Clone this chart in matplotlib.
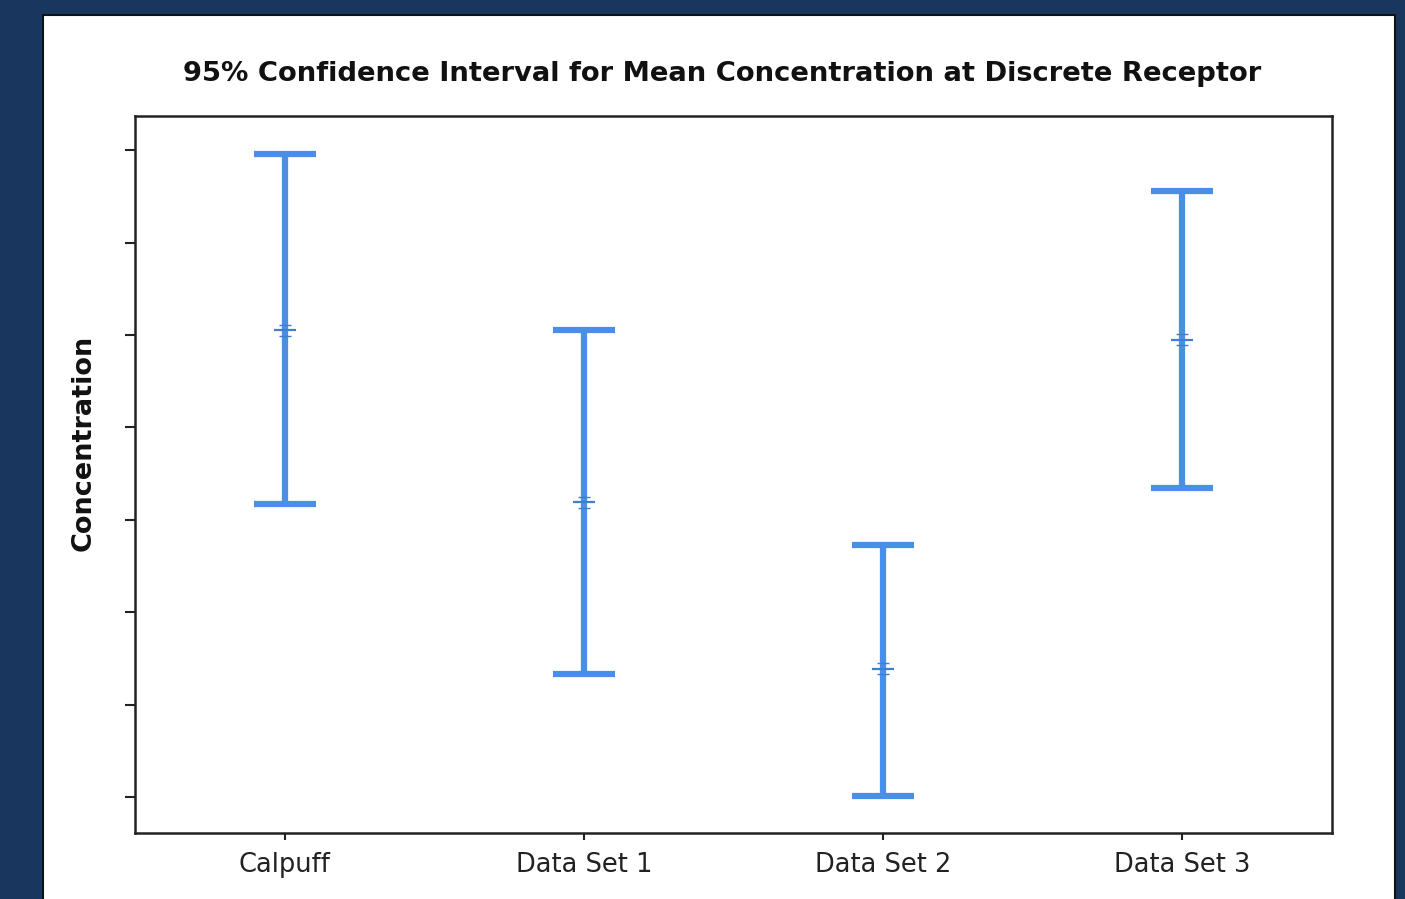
import matplotlib
matplotlib.use("Agg")
import matplotlib.pyplot as plt
from matplotlib.patches import Rectangle

categories = ["Calpuff", "Data Set 1", "Data Set 2", "Data Set 3"]
means = [5.05, 3.19, 1.39, 4.95]
upper = [6.96, 5.05, 2.73, 6.56]
lower = [3.17, 1.33, 0.01, 3.34]
yticks = [0, 1, 2, 3, 4, 5, 6, 7]

W, H = 1405, 899
fig = plt.figure(figsize=(W / 100, H / 100), dpi=100)
fig.patch.set_facecolor("#18365e")
bg = fig.add_axes([0, 0, 1, 1], zorder=-5)
bg.set_xlim(0, W)
bg.set_ylim(H, 0)
bg.axis("off")
bg.add_patch(Rectangle((43, 15), 1395 - 43, H, facecolor="white",
                       edgecolor="#111111", linewidth=1.5))

ax = fig.add_axes([135 / W, 1 - 833 / H, (1332 - 135) / W, (833 - 116) / H])
ax.set_facecolor("white")
blue = "#4a8fe6"
x = list(range(len(categories)))
yerr = [[m - l for m, l in zip(means, lower)], [u - m for u, m in zip(upper, means)]]
ax.errorbar(x, means, yerr=yerr, fmt="none", ecolor=blue, elinewidth=4.5,
            capsize=22, capthick=4.5, zorder=2)
ax.plot(x, means, linestyle="none", marker="_", markersize=16, color="#3f7fd0",
        markeredgewidth=1.6, zorder=3)
ax.plot(x, [m + 0.06 for m in means], linestyle="none", marker="_", markersize=8,
        color="#3f7fd0", markeredgewidth=1.0, zorder=3)
ax.plot(x, [m - 0.06 for m in means], linestyle="none", marker="_", markersize=8,
        color="#3f7fd0", markeredgewidth=1.0, zorder=3)

ax.set_xlim(-0.5, 3.5)
ax.set_ylim(-0.39, 7.37)
ax.set_xticks(x)
ax.set_xticklabels(categories, fontsize=18.5, color="#222222")
ax.set_yticks(yticks)
ax.set_yticklabels([])
ax.tick_params(axis="y", direction="out", length=7, width=1.5, color="#222222")
ax.tick_params(axis="x", direction="out", length=5, width=1.5, color="#222222", pad=9)
for s in ax.spines.values():
    s.set_linewidth(1.8)
    s.set_color("#222222")
fig.text(84 / W, 1 - 443 / H, "Concentration", rotation=90, ha="center", va="center",
         fontsize=19.5, fontweight="bold", color="#111111")
fig.text(722 / W, 1 - 74 / H, "95% Confidence Interval for Mean Concentration at Discrete Receptor",
         ha="center", va="center", fontsize=19.7, fontweight="bold", color="#111111")

fig.savefig("out.png", dpi=100, facecolor=fig.get_facecolor())
